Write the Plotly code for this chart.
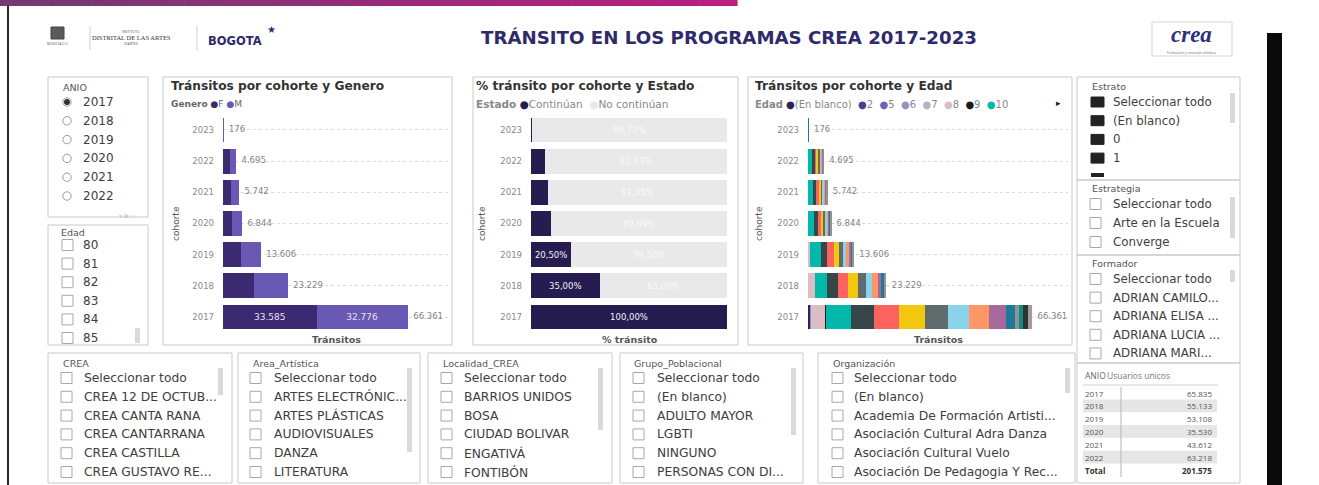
import plotly.graph_objects as go

# ---------------- data ----------------
cohortes = ["2023", "2022", "2021", "2020", "2019", "2018", "2017"]

generos = ["F", "M"]
transitos_f = [90, 2500, 2800, 3400, 6500, 11300, 33585]
transitos_m = [86, 2195, 2942, 3444, 7106, 11929, 32776]

estados = ["Continúan", "No continúan"]
pct_continuan = [0.27, 7.07, 8.65, 10.31, 20.50, 35.00, 100.00]
pct_no_continuan = [99.73, 92.93, 91.35, 89.69, 79.50, 65.00, 0.00]

edades = ["(En blanco)", "2", "5", "6", "7", "8", "9", "10", "11", "12",
          "13", "14", "15", "16", "17", "18", "19", "20", "21", "22"]
edad_en_blanco = [0, 0, 0, 0, 0, 0, 700]
edad_2 = [0, 0, 0, 0, 0, 0, 60]
edad_5 = [0, 0, 0, 0, 0, 0, 80]
edad_6 = [0, 0, 0, 0, 0, 0, 70]
edad_7 = [0, 0, 0, 0, 0, 0, 80]
edad_8 = [0, 0, 0, 0, 500, 1980, 4250]
edad_9 = [0, 0, 0, 0, 0, 0, 60]
edad_10 = [50, 1300, 1500, 1900, 3450, 3660, 7340]
edad_11 = [30, 700, 850, 1000, 1780, 3260, 6800]
edad_12 = [25, 650, 800, 950, 1970, 2970, 7400]
edad_13 = [20, 550, 650, 700, 1480, 2970, 7700]
edad_14 = [15, 480, 600, 750, 1280, 2470, 6900]
edad_15 = [12, 380, 450, 500, 890, 1780, 6200]
edad_16 = [10, 280, 350, 400, 690, 1680, 6100]
edad_17 = [8, 200, 250, 300, 790, 990, 4750]
edad_18 = [6, 100, 150, 200, 490, 990, 2670]
edad_19 = [0, 55, 142, 144, 286, 479, 1200]
edad_20 = [0, 0, 0, 0, 0, 0, 1280]
edad_21 = [0, 0, 0, 0, 0, 0, 1480]
edad_22 = [0, 0, 0, 0, 0, 0, 1241]
series_edad = [edad_en_blanco, edad_2, edad_5, edad_6, edad_7, edad_8, edad_9,
               edad_10, edad_11, edad_12, edad_13, edad_14, edad_15, edad_16,
               edad_17, edad_18, edad_19, edad_20, edad_21, edad_22]

anio_tabla = ["2017", "2018", "2019", "2020", "2021", "2022"]
usuarios_unicos = [65835, 55133, 53108, 35530, 43612, 63218]
usuarios_total = 201575

anios_slicer = ["2017", "2018", "2019", "2020", "2021", "2022"]
edad_slicer = ["80", "81", "82", "83", "84", "85"]
estrato_items = ["Seleccionar todo", "(En blanco)", "0", "1"]
estrategia_items = ["Seleccionar todo", "Arte en la Escuela", "Converge"]
formador_items = ["Seleccionar todo", "ADRIAN CAMILO...", "ADRIANA ELISA ...",
                  "ADRIANA LUCIA ...", "ADRIANA MARI..."]
crea_items = ["Seleccionar todo", "CREA 12 DE OCTUB...", "CREA CANTA RANA",
              "CREA CANTARRANA", "CREA CASTILLA", "CREA GUSTAVO RE..."]
area_items = ["Seleccionar todo", "ARTES ELECTRÓNIC...", "ARTES PLÁSTICAS",
              "AUDIOVISUALES", "DANZA", "LITERATURA"]
localidad_items = ["Seleccionar todo", "BARRIOS UNIDOS", "BOSA", "CIUDAD BOLIVAR",
                   "ENGATIVÁ", "FONTIBÓN"]
grupo_items = ["Seleccionar todo", "(En blanco)", "ADULTO MAYOR", "LGBTI",
               "NINGUNO", "PERSONAS CON DI..."]
organizacion_items = ["Seleccionar todo", "(En blanco)", "Academia De Formación Artisti...",
                      "Asociación Cultural Adra Danza", "Asociación Cultural Vuelo",
                      "Asociación De Pedagogia Y Rec..."]

# ---------------- styles ----------------
FONT = "DejaVu Sans, Open Sans, sans-serif"
FONT_SM = "Open Sans, Noto Sans, sans-serif"
colores_genero = ["#3B2A72", "#6A58B5"]
colores_estado = ["#261C50", "#E9E9EC"]
colores_edad = ["#2B2459", "#4B3D8F", "#6F62B0", "#9A90C8", "#B8AFC9", "#DCBDC4",
                "#1C1C1C", "#01B8AA", "#374649", "#FD625E", "#F2C80F", "#5F6B6D",
                "#8AD4EB", "#FE9666", "#A66999", "#1F7A99", "#8C9596", "#168980",
                "#293537", "#A89A96"]
NAVY = "#2E2A6B"
NBSP = "\u00a0"
W, H = 1319, 485


def X(px):
    return px / W


def Y(py):
    return 1 - py / H


def miles(v):
    return f"{v:,}".replace(",", ".")


def pct(v):
    return f"{v:.2f}".replace(".", ",") + "%"


shapes = []
annotations = []


def rect(x0, y0, x1, y1, line="#C9C9C9", fill=None, width=1, layer="below"):
    shapes.append(dict(type="rect", xref="paper", yref="paper",
                       x0=X(x0), x1=X(x1), y0=Y(y1), y1=Y(y0),
                       line=dict(color=line, width=width if line else 0),
                       fillcolor=fill if fill else "rgba(0,0,0,0)", layer=layer))


def circle(cx, cy, r, line="#999", fill=None):
    shapes.append(dict(type="circle", xref="paper", yref="paper",
                       x0=X(cx - r), x1=X(cx + r), y0=Y(cy + r), y1=Y(cy - r),
                       line=dict(color=line, width=1),
                       fillcolor=fill if fill else "rgba(0,0,0,0)", layer="above"))


def line(x0, y0, x1, y1, color="#C9C9C9", width=1):
    shapes.append(dict(type="line", xref="paper", yref="paper",
                       x0=X(x0), x1=X(x1), y0=Y(y0), y1=Y(y1),
                       line=dict(color=color, width=width), layer="above"))


def text(x, y, s, size=11, color="#444", anchor="left", family=FONT, angle=0):
    annotations.append(dict(x=X(x), y=Y(y), xref="paper", yref="paper", text=s,
                            showarrow=False, xanchor=anchor, yanchor="middle",
                            textangle=angle, borderpad=0,
                            font=dict(size=size, color=color, family=family)))


# ---------------- page header ----------------
N = 40
c0, c1 = (114, 58, 112), (186, 30, 128)
for i in range(N):
    t = i / (N - 1)
    col = "rgb(%d,%d,%d)" % tuple(round(a + (b - a) * t) for a, b in zip(c0, c1))
    rect(737 * i / N, 0, 737 * (i + 1) / N + 0.6, 6, line=None, fill=col)
rect(7, 6, 9, 485, line=None, fill="#2A2A2A")
rect(1267, 33, 1282, 485, line=None, fill="#0A0A0A")

rect(51, 27, 64, 39, line="#444", fill="#5A5A5A")
text(57.5, 43, "BOGOTÁ D.C.", size=3.5, color="#555", anchor="center", family=FONT_SM)
line(90, 26, 90, 50, color="#D0D0D0")
text(131, 32, "INSTITUTO", size=3.5, color="#555", anchor="center", family=FONT_SM)
text(131, 37.5, "DISTRITAL DE LAS ARTES", size=6.5, color="#333", anchor="center",
     family="Liberation Serif, serif")
text(131, 43, "IDARTES", size=3.5, color="#555", anchor="center", family=FONT_SM)
line(197, 26, 197, 50, color="#D0D0D0")
text(207, 41, "<b>BOGOTA</b>", size=11.5, color=NAVY)
text(271, 29, "★", size=10, color=NAVY, anchor="center")
text(729, 38, "<b>TRÁNSITO EN LOS PROGRAMAS CREA 2017-2023</b>", size=18.2,
     color=NAVY, anchor="center")
rect(1152, 22, 1232, 56, line="#D5D5D5")
text(1191, 35, "<b><i>crea</i></b>", size=23, color="#2B2F7E", anchor="center",
     family="Liberation Serif, serif")
text(1191, 52.5, "Formación y creación artística", size=3.5, color="#666",
     anchor="center", family=FONT_SM)

# ---------------- visual panels ----------------
for x0, y0, x1, y1 in [(48, 77, 148, 217), (48, 225, 148, 345),
                       (163, 77, 452, 345), (473, 77, 738, 345), (748, 77, 1072, 345),
                       (1077, 77, 1240, 180), (1077, 180, 1240, 255),
                       (1077, 255, 1240, 363), (1077, 363, 1240, 483),
                       (48, 353, 232, 483), (238, 353, 420, 483), (428, 353, 612, 483),
                       (620, 353, 803, 483), (818, 353, 1075, 483)]:
    rect(x0, y0, x1, y1)


def checklist(items, hx, hy, titulo, cb_x, txt_x, y_first, step, kind="check",
              scroll=None, size=12.3):
    text(hx, hy, titulo, size=9.5, color="#555")
    for i, it in enumerate(items):
        yy = y_first + i * step
        if kind == "check":
            rect(cb_x, yy - 5.5, cb_x + 11, yy + 5.5, line="#A8A8A8", layer="above")
        elif kind == "filled":
            rect(cb_x, yy - 5, cb_x + 13, yy + 5, line="#222", fill="#222", layer="above")
        text(txt_x, yy, it, size=size, color="#3E3E3E")
    if scroll:
        sx, sy0, sy1 = scroll
        rect(sx, sy0, sx + 5, sy1, line=None, fill="#D9D9D9")


# ANIO (radio buttons)
text(62, 87, "ANIO", size=9.5, color="#555")
for i, a in enumerate(anios_slicer):
    yy = 102 + i * 18.8
    circle(67, yy, 4.2, line="#9A9A9A", fill="white")
    if i == 0:
        circle(67, yy, 2.6, line="#333", fill="#333")
    text(82, yy, a, size=12, color="#3E3E3E")
text(127, 215, "▿ ⧉ ···", size=6, color="#AAA", anchor="center")

checklist(edad_slicer, 60, 232, "Edad", 62, 82, 245, 18.6,
          scroll=(135, 328, 343), size=12)
checklist(estrato_items, 1091, 86, "Estrato", 1091, 1112, 102, 18.7,
          kind="filled", scroll=(1230, 93, 123), size=11.8)
rect(1091, 173, 1104, 177, line=None, fill="#222")
checklist(estrategia_items, 1091, 189, "Estrategia", 1090, 1112, 204, 19,
          scroll=(1230, 197, 238), size=11.8)
checklist(formador_items, 1091, 263, "Formador", 1090, 1112, 279, 18.6,
          scroll=(1230, 270, 282), size=11.8)
checklist(crea_items, 62, 363, "CREA", 61, 83, 378, 18.8, scroll=(218, 368, 395))
checklist(area_items, 252, 363, "Area_Artística", 250, 273, 378, 18.8,
          scroll=(407, 368, 452))
checklist(localidad_items, 442, 363, "Localidad_CREA", 441, 463, 378, 18.8,
          scroll=(598, 368, 430))
checklist(grupo_items, 633, 363, "Grupo_Poblacional", 633, 656, 378, 18.8,
          scroll=(791, 368, 435))
checklist(organizacion_items, 832, 363, "Organización", 832, 853, 378, 18.8,
          scroll=(1065, 368, 393))

# ---------------- chart titles, legends, axis titles ----------------
text(170, 86, "<b>Tránsitos por cohorte y Genero</b>", size=12.2, color="#333")
text(170, 104, "<b>Genero</b> " + " ".join(
    f"<span style='color:{c}'>●</span>{g}" for g, c in zip(generos, colores_genero)),
    size=9, color="#666")
text(475, 86, "<b>% tránsito por cohorte y Estado</b>", size=12.2, color="#333")
text(475, 104, "<b>Estado</b> " + "  ".join(
    f"<span style='color:{c}'>●</span>{e}" for e, c in zip(estados, colores_estado)),
    size=10.5, color="#888")
text(754, 86, "<b>Tránsitos por cohorte y Edad</b>", size=12.2, color="#333")
text(754, 104, "<b>Edad</b> " + "  ".join(
    f"<span style='color:{c}'>●</span>{e}" for e, c in zip(edades[:8], colores_edad[:8])),
    size=10, color="#888")
text(1058, 103, "▸", size=9, color="#222", anchor="center")

for xc in (176, 482, 759):
    text(xc, 224, "cohorte", size=9, color="#555", anchor="center", angle=-90)
text(336, 339, "<b>Tránsitos</b>", size=9.5, color="#555", anchor="center")
text(630, 339, "<b>% tránsito</b>", size=9.5, color="#555", anchor="center")
text(938, 339, "<b>Tránsitos</b>", size=9.5, color="#555", anchor="center")

# ---------------- traces ----------------
fig = go.Figure()

# cohort transits by gender
for g, vals, col in zip(generos, [transitos_f, transitos_m], colores_genero):
    fig.add_trace(go.Bar(
        x=vals, y=cohortes, orientation="h", name=g, xaxis="x", yaxis="y",
        marker=dict(color=col, line=dict(width=0)),
        text=[miles(v) if v >= 20000 else "" for v in vals],
        textposition="inside", insidetextanchor="middle",
        textfont=dict(size=9, color="#E6E2F4", family=FONT), hoverinfo="x+y+name"))
totales_genero = [f + m for f, m in zip(transitos_f, transitos_m)]
fig.add_trace(go.Scatter(
    x=totales_genero, y=cohortes, mode="text", xaxis="x", yaxis="y",
    text=[NBSP * 2 + miles(v) for v in totales_genero], textposition="middle right",
    textfont=dict(size=8.5, color="#858585", family=FONT), cliponaxis=False,
    hoverinfo="skip"))

# share of transits by state
for e, vals, col, tcol in zip(estados, [pct_continuan, pct_no_continuan],
                              colores_estado, ["#F2F0FA", "#FAFAFA"]):
    fig.add_trace(go.Bar(
        x=vals, y=cohortes, orientation="h", name=e, xaxis="x2", yaxis="y2",
        marker=dict(color=col, line=dict(width=0)),
        text=[pct(v) if v >= 15 else "" for v in vals],
        textposition="inside", insidetextanchor="middle",
        textfont=dict(size=8.5, color=tcol, family=FONT), hoverinfo="x+y+name"))

# cohort transits by age
for e, vals, col in zip(edades, series_edad, colores_edad):
    fig.add_trace(go.Bar(
        x=vals, y=cohortes, orientation="h", name=e, xaxis="x3", yaxis="y3",
        marker=dict(color=col, line=dict(width=0)), hoverinfo="x+y+name"))
totales_edad = [sum(col) for col in zip(*series_edad)]
fig.add_trace(go.Scatter(
    x=totales_edad, y=cohortes, mode="text", xaxis="x3", yaxis="y3",
    text=[NBSP * 2 + miles(v) for v in totales_edad], textposition="middle right",
    textfont=dict(size=8.5, color="#858585", family=FONT), cliponaxis=False,
    hoverinfo="skip"))

# unique users table
text(1084, 375, "ANIO", size=8.5, color="#666", family=FONT_SM)
text(1106, 375, "Usuarios unicos", size=8.5, color="#777", family=FONT_SM)
line(1083, 385, 1218, 385, color="#D0D0D0")
paso = 12.8
for i, (a, u) in enumerate(zip(anio_tabla, usuarios_unicos)):
    yy = 393 + i * paso
    if i % 2 == 1:
        rect(1083, yy - paso / 2, 1217, yy + paso / 2, line=None, fill="#E6E6E6")
    text(1084, yy, a, size=8, color="#555", family=FONT_SM)
    text(1213, yy, miles(u), size=8, color="#555", anchor="right", family=FONT_SM)
y_total = 393 + len(anio_tabla) * paso + 1
text(1084, y_total, "<b>Total</b>", size=8, color="#333", family=FONT_SM)
text(1213, y_total, "<b>" + miles(usuarios_total) + "</b>", size=8, color="#333",
     anchor="right", family=FONT_SM)
line(1121, 387, 1121, 477, color="#B5B5B5")

# ---------------- axes ----------------
y_dom = [Y(332.6), Y(114.4)]


def eje_x(x0, x1, rmax, anchor):
    return dict(domain=[X(x0), X(x1)], range=[0, rmax], showticklabels=False,
                showgrid=False, zeroline=False, showline=False, fixedrange=True,
                anchor=anchor)


def eje_y(anchor, grid=True):
    return dict(domain=y_dom, type="category", autorange="reversed",
                tickfont=dict(size=8.5, color="#8A8A8A", family=FONT), ticks="",
                ticklabelstandoff=8, showline=False, zeroline=False,
                showgrid=grid, griddash="dot", gridcolor="#DADADA", gridwidth=1,
                anchor=anchor, fixedrange=True)


fig.update_layout(
    width=W, height=H, margin=dict(l=0, r=0, t=0, b=0),
    paper_bgcolor="white", plot_bgcolor="rgba(0,0,0,0)",
    barmode="stack", bargap=0.2, showlegend=False, separators=",.",
    font=dict(family=FONT),
    xaxis=eje_x(223, 450, 81500, "y"), yaxis=eje_y("x"),
    xaxis2=eje_x(531, 727, 100, "y2"), yaxis2=eje_y("x2", grid=False),
    xaxis3=eje_x(808, 1068, 77000, "y3"), yaxis3=eje_y("x3"),
    shapes=shapes, annotations=annotations,
)

fig.write_html("out.html")
